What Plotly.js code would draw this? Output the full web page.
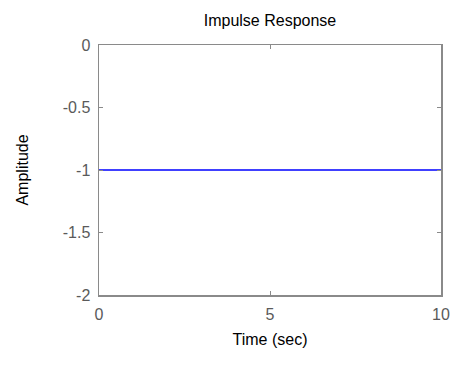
<!DOCTYPE html>
<html>
<head>
<meta charset="utf-8">
<script src="https://cdn.plot.ly/plotly-3.0.1.min.js"></script>
<style>
  html, body { margin: 0; padding: 0; background: #ffffff; }
  #chart { width: 454px; height: 367px; }
</style>
</head>
<body>
<div id="chart"></div>
<script>
// Impulse response samples: time (s) and amplitude
const time = [0, 10];
const amplitude = [-1, -1];

// Axis ticks
const xTicks = [0, 5, 10];
const xTickLabels = ['0', '5', '10'];
const yTicks = [0, -0.5, -1, -1.5, -2];
const yTickLabels = ['0', '-0.5', '-1', '-1.5', '-2'];

const FONT = 'Arial, "Liberation Sans", Arimo, sans-serif';
const AXIS_GRAY = '#8a8a8a';
const TICK_TEXT = '#5a5a5a';

const trace = {
  x: time,
  y: amplitude,
  type: 'scatter',
  mode: 'lines',
  line: { color: '#0000ff', width: 1.6 },
  hoverinfo: 'skip'
};

const axisCommon = {
  showline: true,
  linecolor: AXIS_GRAY,
  linewidth: 1.5,
  mirror: 'ticks',
  ticks: 'inside',
  ticklen: 4,
  tickwidth: 1,
  tickcolor: AXIS_GRAY,
  showgrid: false,
  zeroline: false,
  tickfont: { family: FONT, size: 16, color: TICK_TEXT }
};

const layout = {
  width: 454,
  height: 367,
  paper_bgcolor: '#ffffff',
  plot_bgcolor: '#ffffff',
  showlegend: false,
  margin: { l: 99, r: 13, t: 45, b: 72 },
  title: {
    text: 'Impulse Response',
    font: { family: FONT, size: 16, color: '#000000' },
    xref: 'paper', x: 0.5, xanchor: 'center',
    yref: 'container', y: 1 - 20 / 367, yanchor: 'middle'
  },
  xaxis: Object.assign({}, axisCommon, {
    range: [0, 10],
    tickvals: xTicks,
    ticktext: xTickLabels,
    ticklabelstandoff: 4,
    title: { text: 'Time (sec)', font: { family: FONT, size: 16, color: '#000000' }, standoff: 12 }
  }),
  yaxis: Object.assign({}, axisCommon, {
    range: [-2, 0],
    tickvals: yTicks,
    ticktext: yTickLabels,
    ticklabelstandoff: 4,
    title: { text: 'Amplitude', font: { family: FONT, size: 16, color: '#000000' }, standoff: 30 }
  })
};

Plotly.newPlot('chart', [trace], layout, { displayModeBar: false, staticPlot: true });
</script>
</body>
</html>
